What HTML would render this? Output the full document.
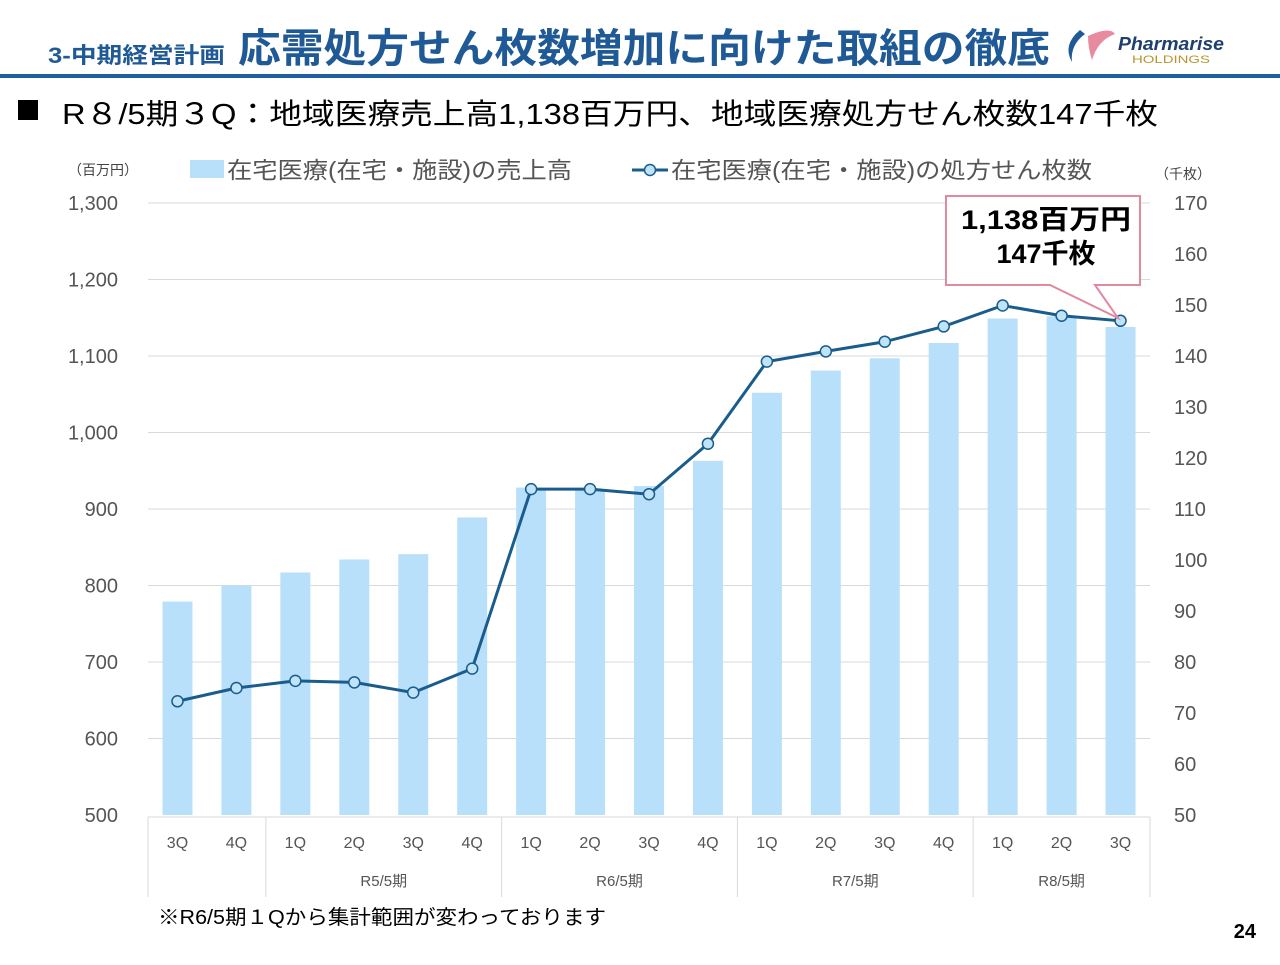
<!DOCTYPE html>
<html><head><meta charset="utf-8"><style>
body{margin:0;width:1280px;height:960px;background:#fff;overflow:hidden;font-family:"Liberation Sans","Noto Sans CJK JP",sans-serif}
svg text{font-family:"Liberation Sans","Noto Sans CJK JP",sans-serif}
</style></head><body>
<svg id="c" width="1280" height="960" xmlns="http://www.w3.org/2000/svg">
<text x="48" y="63" font-size="22" font-weight="bold" fill="#1f5a96" textLength="177" lengthAdjust="spacingAndGlyphs">3-中期経営計画</text>
<text x="238" y="62" font-size="40" font-weight="bold" fill="#1f5a96" textLength="812" lengthAdjust="spacingAndGlyphs">応需処方せん枚数増加に向けた取組の徹底</text>
<g>
<path d="M1080 30 Q1062 45 1072 62 Q1070 45 1085 34Z" fill="#1f5a96"/>
<path d="M1088 36 Q1110 26 1115 34 Q1098 40 1092 60 Q1088 48 1088 36Z" fill="#e88aa0"/>
<text x="1118" y="50" font-size="18" font-weight="bold" font-style="italic" fill="#1f3f6e" textLength="106" lengthAdjust="spacingAndGlyphs">Pharmarise</text>
<text x="1132" y="63" font-size="11" fill="#b8962e" textLength="78" lengthAdjust="spacingAndGlyphs">HOLDINGS</text>
</g>
<rect x="0" y="74" width="1280" height="4" fill="#1f5fa0"/>
<rect x="18" y="100" width="20" height="20" fill="#000"/>
<text x="62" y="124" font-size="29" fill="#000" textLength="1096" lengthAdjust="spacingAndGlyphs">R８/5期３Q：地域医療売上高1,138百万円、地域医療処方せん枚数147千枚</text>
<text x="68" y="175" font-size="14" fill="#444">（百万円）</text>
<text x="1155" y="179" font-size="14" fill="#444">（千枚）</text>
<rect x="190" y="160" width="34" height="18" fill="#b9e0fa"/>
<text x="227" y="178" font-size="23" fill="#555" textLength="345" lengthAdjust="spacingAndGlyphs">在宅医療(在宅・施設)の売上高</text>
<line x1="632" y1="170" x2="668" y2="170" stroke="#1a5c8c" stroke-width="3"/>
<circle cx="650" cy="170" r="5.5" fill="#bfe3f7" stroke="#1a5c8c" stroke-width="1.5"/>
<text x="671" y="178" font-size="23" fill="#555" textLength="421" lengthAdjust="spacingAndGlyphs">在宅医療(在宅・施設)の処方せん枚数</text>
<g id="grid"></g><g id="bars"></g><g id="line"></g><g id="axes"></g>
<g>
<path d="M946 196 H1140 V285 H1095 L1118 318 L1050 285 H946 Z" fill="#fff" stroke="#e08aa0" stroke-width="2"/>
<text x="1046" y="229" font-size="27" font-weight="bold" text-anchor="middle" fill="#000" textLength="170" lengthAdjust="spacingAndGlyphs">1,138百万円</text>
<text x="1046" y="263" font-size="27" font-weight="bold" text-anchor="middle" fill="#000">147千枚</text>
</g>
<text x="158" y="924" font-size="20" fill="#000" textLength="448" lengthAdjust="spacingAndGlyphs">※R6/5期１Qから集計範囲が変わっております</text>
<text x="1256" y="938" font-size="20" font-weight="bold" text-anchor="end" fill="#000">24</text>
</svg>
<script>
const categories=["3Q","4Q","1Q","2Q","3Q","4Q","1Q","2Q","3Q","4Q","1Q","2Q","3Q","4Q","1Q","2Q","3Q"];
const groups=[{label:"",n:2},{label:"R5/5期",n:4},{label:"R6/5期",n:4},{label:"R7/5期",n:4},{label:"R8/5期",n:3}];
const sales=[779,800,817,834,841,889,928,925,930,963,1052,1081,1097,1117,1149,1152,1138];
const prescriptions=[72.3,74.9,76.3,76.0,74.0,78.7,113.9,113.9,112.9,122.8,138.9,140.9,142.8,145.8,149.9,147.9,146.9];
const leftTicks=[500,600,700,800,900,1000,1100,1200,1300];
const rightTicks=[50,60,70,80,90,100,110,120,130,140,150,160,170];
const NS="http://www.w3.org/2000/svg";
const X0=148,X1=1150,Y0=815,Y1=203,bw=(X1-X0)/categories.length;
const yL=v=>Y0-(v-500)/800*(Y0-Y1);
const yR=v=>Y0-(v-50)/120*(Y0-Y1);
const xC=i=>X0+bw*(i+0.5);
function mk(p,t,a){const e=document.createElementNS(NS,t);for(const k in a)e.setAttribute(k,a[k]);document.getElementById(p).appendChild(e);return e;}
leftTicks.forEach(v=>{
 if(v>500){const l=mk('grid','line',{x1:X0,x2:X1,y1:yL(v),y2:yL(v),stroke:'#d9d9d9','stroke-width':1});
 
 }
 const t=mk('axes','text',{x:118,y:yL(v)+7,'font-size':20,'text-anchor':'end',fill:'#555'});t.textContent=v.toLocaleString('en-US');
 
 
});
rightTicks.forEach(v=>{
 const t=mk('axes','text',{x:1174,y:yR(v)+7,'font-size':20,fill:'#555'});t.textContent=v;
 
 
});
sales.forEach((v,i)=>{
 const r=mk('bars','rect',{x:xC(i)-15,y:yL(v),width:30,height:Y0-yL(v),fill:'#b9e0fa'});
 
 
});
const pl=mk('line','polyline',{points:prescriptions.map((v,i)=>xC(i)+','+yR(v)).join(' '),fill:'none',stroke:'#1a5c8c','stroke-width':3});


prescriptions.forEach((v,i)=>{
 const c=mk('line','circle',{cx:xC(i),cy:yR(v),r:5.5,fill:'#bfe3f7',stroke:'#1a5c8c','stroke-width':1.5});
 
 
});
mk('axes','line',{x1:X0,x2:X1,y1:Y0+2,y2:Y0+2,stroke:'#d9d9d9'});
categories.forEach((c,i)=>{
 const t=mk('axes','text',{x:xC(i),y:848,'font-size':16,'text-anchor':'middle',fill:'#555'});t.textContent=c;
 
 
});
let s=0;
mk('axes','line',{x1:X0,x2:X0,y1:Y0+2,y2:897,stroke:'#d9d9d9'});
groups.forEach(g=>{
 const a=X0+s*bw,b=X0+(s+g.n)*bw;s+=g.n;
 mk('axes','line',{x1:b,x2:b,y1:Y0+2,y2:897,stroke:'#d9d9d9'});
 const t=mk('axes','text',{x:(a+b)/2,y:886,'font-size':15,'text-anchor':'middle',fill:'#555'});t.textContent=g.label;
 
 
});
</script>
</body></html>
